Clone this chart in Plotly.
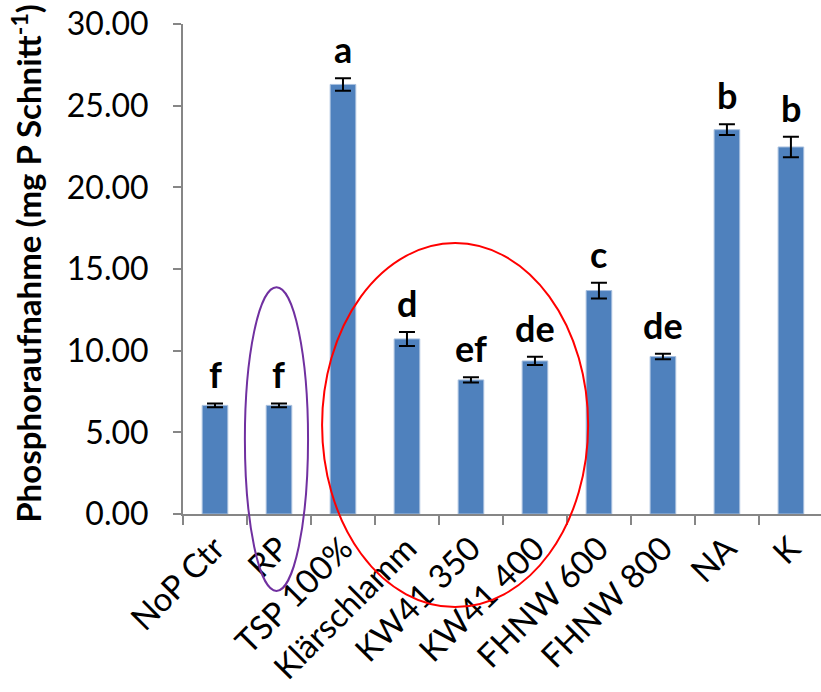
import plotly.graph_objects as go

categories = ["NoP Ctr", "RP", "TSP 100%", "Klärschlamm", "KW41 350", "KW41 400",
              "FHNW 600", "FHNW 800", "NA", "K"]
values = [6.65, 6.65, 26.30, 10.72, 8.21, 9.37, 13.68, 9.64, 23.53, 22.47]
errors = [0.12, 0.12, 0.38, 0.43, 0.16, 0.25, 0.48, 0.17, 0.33, 0.63]
letters = ["f", "f", "a", "d", "ef", "de", "c", "de", "b", "b"]
y_ticks = [0, 5, 10, 15, 20, 25, 30]

BAR = "#4F81BD"
AXIS = "#868686"
LABEL_FONT = "Lato"

fig = go.Figure()
fig.add_trace(go.Bar(
    x=categories, y=values,
    width=0.4,
    marker=dict(color=BAR, line=dict(color="#A7BFDE", width=1)),
    error_y=dict(type="data", array=errors, visible=True,
                 color="black", thickness=2, width=8),
    showlegend=False,
    hoverinfo="skip",
))

for c, v, e, l in zip(categories, values, errors, letters):
    fig.add_annotation(x=c, y=v + e, text=f"<b>{l}</b>", showarrow=False,
                       xref="x", yref="y", yanchor="bottom", yshift=5,
                       font=dict(family=LABEL_FONT, size=36, color="black"))

# y-axis title
fig.add_annotation(x=-0.245, y=0.512, xref="paper", yref="paper",
                   xanchor="center", yanchor="middle",
                   text="<b>Phosphoraufnahme (mg P Schnitt<sup>-1</sup>)</b>",
                   textangle=-90, showarrow=False,
                   font=dict(family=LABEL_FONT, size=33, color="black"))

# highlight ellipses
fig.add_shape(type="circle", xref="paper", yref="paper",
              x0=0.097, x1=0.196, y0=-0.157, y1=0.463,
              line=dict(color="#7030A0", width=2))
fig.add_shape(type="circle", xref="paper", yref="paper",
              x0=0.218, x1=0.635, y0=-0.190, y1=0.553,
              line=dict(color="#FF0000", width=2))

fig.update_layout(
    width=821, height=692,
    margin=dict(l=183, r=0, t=24, b=178),
    plot_bgcolor="white", paper_bgcolor="white",
    bargap=0.6,
)
fig.update_xaxes(
    range=[-0.5, 9.47], automargin=False,
    tickangle=-45, tickson="boundaries",
    ticks="outside", ticklen=9, tickcolor=AXIS, tickwidth=2,
    showline=True, linecolor=AXIS, linewidth=2,
    showgrid=False,
    tickfont=dict(family=LABEL_FONT, size=33, color="black"),
)
fig.update_yaxes(
    range=[0, 30], automargin=False,
    tickvals=y_ticks, ticktext=[f"{t:.2f}" for t in y_ticks],
    ticks="outside", ticklen=8, tickcolor=AXIS, tickwidth=2,
    showline=True, linecolor=AXIS, linewidth=2,
    showgrid=False, zeroline=False,
    ticklabelstandoff=18,
    tickfont=dict(family=LABEL_FONT, size=32, color="black"),
)

fig.write_html("out.html",
               config={"displayModeBar": False},
               post_script="document.body.style.margin='0';document.body.style.overflow='hidden';")
